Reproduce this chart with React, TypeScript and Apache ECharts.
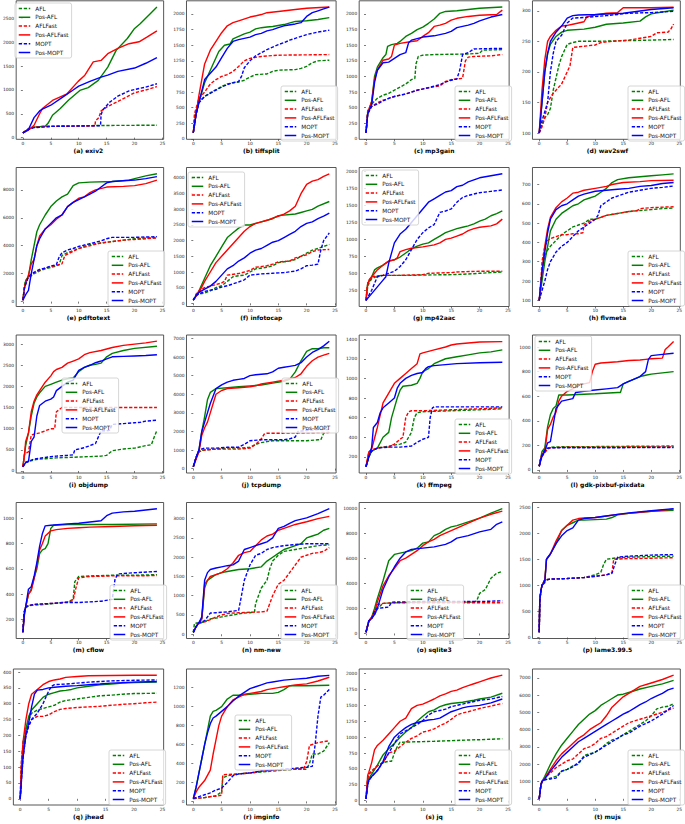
import React, { useEffect, useRef } from "react";
import * as echarts from "echarts";

type Pair = [number, number];

const SERIES_NAMES = ["AFL", "Pos-AFL", "AFLFast", "Pos-AFLFast", "MOPT", "Pos-MOPT"];
const X_TICKS = [0, 5, 10, 15, 20, 25];

const TITLES = [
  "(a) exiv2", "(b) tiffsplit", "(c) mp3gain", "(d) wav2swf",
  "(e) pdftotext", "(f) infotocap", "(g) mp42aac", "(h) flvmeta",
  "(i) objdump", "(j) tcpdump", "(k) ffmpeg", "(l) gdk-pixbuf-pixdata",
  "(m) cflow", "(n) nm-new", "(o) sqlite3", "(p) lame3.99.5",
  "(q) jhead", "(r) imginfo", "(s) jq", "(t) mujs",
];

const Y_TICKS: number[][] = [
  [0, 500, 1000, 1500, 2000, 2500],
  [0, 250, 500, 750, 1000, 1250, 1500, 1750, 2000],
  [0, 250, 500, 750, 1000, 1250, 1500, 1750, 2000],
  [100, 150, 200, 250, 300],
  [0, 2000, 4000, 6000, 8000],
  [0, 500, 1000, 1500, 2000, 2500, 3000, 3500, 4000],
  [250, 500, 750, 1000, 1250, 1500, 1750, 2000],
  [100, 200, 300, 400, 500, 600, 700],
  [0, 500, 1000, 1500, 2000, 2500, 3000],
  [0, 1000, 2000, 3000, 4000, 5000, 6000, 7000],
  [200, 400, 600, 800, 1000, 1200, 1400],
  [0, 200, 400, 600, 800, 1000],
  [200, 400, 600, 800, 1000],
  [0, 500, 1000, 1500, 2000, 2500, 3000],
  [0, 2000, 4000, 6000, 8000, 10000],
  [0, 500, 1000, 1500, 2000, 2500],
  [0, 50, 100, 150, 200, 250, 300, 350, 400],
  [0, 200, 400, 600, 800, 1000, 1200],
  [0, 250, 500, 750, 1000, 1250, 1500, 1750, 2000],
  [0, 1000, 2000, 3000, 4000, 5000, 6000, 7000],
];

// Series order in each plot: AFL, Pos-AFL, AFLFast, Pos-AFLFast, MOPT, Pos-MOPT
const exiv2: Pair[][] = [
  [[0,100],[1,180],[2,220],[4,240],[8,245],[14,255],[24,260]],
  [[0,100],[1,180],[2,220],[4,240],[4.5,300],[5.3,470],[6.7,610],[8.2,790],[10.2,990],[11.7,1050],[13.5,1200],[15.2,1480],[16.7,1830],[18.7,2080],[20,2290],[21,2390],[22.8,2600],[24,2740]],
  [[0,100],[1,190],[2,220],[5,235],[12.9,245],[13,350],[13.6,420],[14,560],[15,640],[17,760],[19,880],[20,940],[22,1000],[24,1070]],
  [[0,100],[1,160],[2,260],[3,500],[3.5,610],[5.3,780],[7.9,920],[9.9,1180],[11.1,1310],[12.6,1590],[14,1620],[15.2,1760],[17,1870],[19,1970],[20.8,2010],[22.2,2110],[24,2240]],
  [[0,100],[1,170],[2,210],[5,235],[13.9,250],[14,480],[14.3,580],[15.5,740],[17,870],[19,980],[20,1010],[22,1060],[24,1130]],
  [[0,100],[1,170],[2,420],[3,560],[3.5,600],[5,680],[7,840],[9,1000],[10,1080],[12,1180],[14,1270],[15.2,1310],[17,1390],[20,1460],[22,1560],[24,1680]],
];
const tiffsplit: Pair[][] = [
  [[0,100],[0.3,400],[1,600],[2,680],[3,740],[4,790],[5,840],[6,880],[7,900],[8,910],[9,940],[10,990],[11,1030],[13,1040],[14,1080],[15,1100],[18,1110],[19,1130],[20,1160],[21,1220],[22,1250],[24,1260]],
  [[0,100],[0.5,400],[1,600],[2,900],[3,1100],[4,1300],[4.5,1400],[5.5,1500],[6.5,1520],[7,1600],[8,1640],[9,1680],[10,1710],[11,1760],[12,1780],[13,1790],[14,1800],[16,1830],[18,1880],[20,1890],[22,1910],[24,1940]],
  [[0,100],[0.2,400],[1,650],[2,750],[3,880],[4,950],[5,1000],[6,1030],[7,1080],[8,1160],[9,1250],[10,1290],[12,1320],[15,1340],[24,1350]],
  [[0,100],[0.5,400],[1,700],[2,1200],[3,1420],[4,1560],[5,1700],[6,1810],[7,1860],[8,1890],[10,1950],[12,1990],[13,2020],[15,2040],[18,2070],[20,2090],[24,2110]],
  [[0,100],[0.5,400],[1,580],[2,680],[3,730],[4,780],[5,830],[6,870],[7,900],[8,920],[8.5,1000],[9,1140],[10,1250],[11,1330],[12,1380],[13,1430],[14,1470],[15,1510],[16,1540],[17,1580],[18,1610],[19,1640],[20,1670],[22,1710],[24,1740]],
  [[0,100],[0.5,400],[1,580],[2,950],[3,1050],[4,1150],[5,1300],[6,1450],[7,1560],[8,1590],[10,1630],[11,1670],[12,1690],[13,1730],[14,1750],[15,1780],[16,1810],[18,1840],[19,1860],[20,1960],[21,2020],[22,2050],[23,2080],[24,2110]],
];
const mp3gain: Pair[][] = [
  [[0,100],[0.3,450],[1,560],[2,650],[3,700],[4,730],[5,780],[6,830],[7,880],[8,950],[8.6,970],[8.8,1200],[9.2,1320],[10,1340],[12,1350],[18,1360],[20,1370],[20.5,1420],[24,1430]],
  [[0,100],[0.3,400],[1,600],[1.5,1000],[2,1150],[3,1300],[3.5,1350],[3.8,1480],[4.5,1510],[5.5,1530],[6,1560],[7,1640],[8,1690],[9,1750],[10,1790],[11,1850],[12,1920],[13,2010],[14,2040],[16,2050],[18,2070],[20,2090],[24,2110]],
  [[0,100],[0.3,420],[1,520],[2,580],[3,620],[4,650],[5,680],[7,720],[9,780],[11,820],[13,850],[14,920],[15,950],[16,960],[17,970],[17.5,1250],[18,1310],[19,1320],[22,1330],[24,1350]],
  [[0,100],[0.3,420],[1,600],[1.5,950],[2,1100],[3,1260],[4,1280],[4.5,1320],[5,1500],[6,1530],[8,1560],[9,1570],[10,1640],[11,1700],[12,1800],[13,1820],[14,1850],[15,1900],[16,1930],[18,1960],[20,1980],[23,1990],[24,2060]],
  [[0,100],[0.3,400],[1,520],[2,560],[3,610],[4,650],[5,680],[7,720],[9,780],[11,820],[13,870],[14,910],[15,940],[16,960],[16.5,1100],[17,1350],[18,1380],[19,1440],[24,1450]],
  [[0,100],[0.3,400],[1,550],[1.5,900],[2,1100],[3,1220],[4,1230],[5,1290],[6,1350],[7,1380],[7.5,1540],[8,1580],[10,1630],[12,1650],[14,1690],[15,1720],[16,1780],[18,1820],[19,1850],[20,1890],[22,1950],[24,1990]],
];
const wav2swf: Pair[][] = [
  [[0,100],[0.5,115],[1,125],[1.5,130],[2,140],[2.5,170],[3,190],[3.5,210],[4,225],[4.5,235],[5,245],[6,248],[7,250],[10,250],[15,251],[20,252],[24,253]],
  [[0,100],[0.5,150],[1,200],[1.5,230],[2,245],[3,258],[4,265],[5,268],[8,270],[10,273],[12,278],[15,280],[18,283],[19,290],[20,295],[22,298],[24,301]],
  [[0,100],[0.5,110],[1,125],[1.5,150],[2,158],[2.5,165],[3,170],[4,180],[5,200],[5.5,210],[6,240],[8,242],[10,244],[11,248],[13,250],[16,252],[18,255],[20,258],[21,264],[23,265],[23.5,270],[24,278]],
  [[0,100],[0.5,170],[1,220],[1.5,250],[2,258],[3,268],[4,275],[5,276],[6,278],[7,280],[8,282],[8.5,290],[10,293],[12,296],[14,297],[15,305],[20,305],[24,306]],
  [[0,100],[0.5,120],[1,135],[1.5,150],[2,200],[2.5,230],[3,250],[4,260],[4.5,270],[5,280],[6,288],[8,289],[12,292],[14,294],[16,296],[20,297],[22,298],[24,299]],
  [[0,100],[0.5,150],[1,200],[1.5,230],[2,250],[3,265],[4,275],[5,288],[6,292],[7,293],[10,294],[15,296],[20,302],[24,305]],
];
const pdftotext: Pair[][] = [
  [[0,100],[0.3,1200],[0.5,1500],[1,1700],[2,2000],[3,2200],[4,2350],[5,2450],[6,2550],[6.5,2650],[7,3300],[8,3500],[9,3650],[10,3800],[11,3950],[12,4100],[14,4200],[16,4300],[18,4400],[20,4500],[22,4550],[24,4600]],
  [[0,100],[0.3,1000],[0.5,1500],[1,1800],[1.5,3000],[2,4000],[2.5,5000],[3,5500],[4,6200],[5,6800],[6,7200],[7,7500],[8,7700],[9,8300],[10,8500],[12,8550],[16,8600],[19,8700],[20,8800],[22,9000],[24,9150]],
  [[0,100],[0.3,1100],[1,1800],[2,2050],[3,2250],[4,2400],[5,2500],[6,2600],[7,2700],[7.5,3300],[8,3400],[9,3600],[10,3800],[12,4000],[14,4200],[16,4300],[18,4400],[20,4450],[22,4500],[24,4550]],
  [[0,100],[0.3,1000],[1,1900],[1.5,2700],[2,3000],[2.5,4000],[3,4700],[4,5200],[5,5500],[6,5900],[7,6200],[8,6800],[9,7100],[10,7400],[11,7500],[12,7800],[13,8000],[15,8200],[18,8250],[20,8300],[22,8450],[24,8700]],
  [[0,100],[0.3,1000],[1,1800],[2,2100],[3,2300],[4,2400],[5,2550],[6,2650],[6.5,3200],[7,3500],[8,3700],[9,3800],[10,3950],[12,4150],[14,4350],[15,4500],[16,4600],[18,4600],[20,4600],[24,4650]],
  [[0,100],[0.5,500],[1,800],[1.5,2000],[2,3000],[2.5,4000],[3,4500],[4,5200],[5,5600],[6,6000],[7,6200],[8,6800],[9,7100],[10,7300],[11,7500],[12,7700],[13,7900],[14,8200],[15,8500],[16,8600],[18,8650],[20,8700],[22,8800],[24,8950]],
];
const infotocap: Pair[][] = [
  [[0,100],[0.5,250],[1,300],[2,330],[3,400],[4,500],[5,560],[6,700],[7,850],[8,880],[9,900],[10,1000],[11,1100],[13,1150],[14,1200],[15,1300],[17,1350],[18,1400],[19,1500],[20,1600],[21,1700],[22,1750],[24,1880]],
  [[0,100],[1,400],[2,800],[3,1200],[4,1500],[5,1800],[6,2100],[7,2250],[8,2400],[9,2500],[10,2500],[12,2600],[14,2700],[15,2800],[18,2850],[19,2900],[20,2950],[21,3000],[22,3100],[24,3250]],
  [[0,100],[0.5,300],[1,400],[2,500],[3,550],[4,600],[5,650],[5.5,700],[6,900],[8,950],[10,1050],[11,1150],[13,1200],[14,1250],[15,1320],[17,1350],[18,1450],[20,1550],[21,1650],[22,1700],[24,1720]],
  [[0,100],[1,350],[2,700],[3,1000],[4,1300],[5,1500],[6,1700],[7,1900],[8,2100],[9,2300],[10,2450],[11,2550],[12,2600],[13,2650],[14,2720],[15,2780],[16,2850],[17,2950],[18,3100],[19,3500],[20,3800],[21,3900],[22,3950],[23,4050],[24,4130]],
  [[0,100],[0.5,250],[1,300],[2,380],[3,420],[4,450],[5,520],[6,560],[7,620],[8,680],[9,750],[10,900],[12,940],[14,960],[16,980],[18,1030],[19,1100],[20,1200],[21,1220],[22,1250],[22.5,1700],[23,2000],[24,2250]],
  [[0,100],[0.5,250],[1,350],[2,450],[3,550],[4,700],[5,900],[6,1100],[7,1200],[8,1350],[9,1450],[10,1600],[11,1700],[12,1750],[13,1850],[14,1950],[15,2000],[16,2100],[17,2200],[18,2300],[19,2450],[20,2550],[21,2600],[22,2700],[23,2780],[24,2880]],
];
const mp42aac: Pair[][] = [
  [[0,100],[0.3,300],[0.5,350],[1,420],[2,460],[3,470],[5,470],[8,470],[10,475],[15,480],[18,490],[20,500],[22,510],[24,520]],
  [[0,100],[0.3,350],[1,450],[1.5,550],[2,580],[3,620],[4,680],[5,700],[6,740],[7,800],[8,860],[9,900],[10,930],[11,950],[12,1000],[13,1050],[14,1100],[15,1130],[16,1160],[17,1180],[18,1200],[19,1230],[20,1270],[21,1300],[22,1350],[23,1380],[24,1420]],
  [[0,100],[0.2,300],[0.5,400],[1,450],[2,460],[3,470],[6,470],[10,480],[11,500],[15,510],[16,520],[20,530],[24,530]],
  [[0,100],[0.3,350],[1,450],[2,550],[3,620],[4,680],[5,700],[5.5,730],[6,820],[7,850],[8,870],[10,890],[12,920],[13,950],[14,1000],[15,1020],[16,1050],[17,1080],[18,1130],[19,1160],[20,1180],[22,1200],[23,1230],[24,1300]],
  [[0,100],[1,250],[2,450],[3,470],[4,500],[5,530],[6,600],[7,700],[8,850],[9,1000],[10,1100],[11,1170],[12,1220],[13,1400],[14,1420],[15,1450],[16,1550],[17,1620],[18,1650],[19,1670],[20,1690],[22,1710],[24,1730]],
  [[0,100],[1,200],[2,300],[3,400],[3.5,450],[4,650],[5,950],[6,1080],[7,1150],[8,1250],[9,1350],[10,1450],[11,1550],[12,1600],[13,1650],[14,1700],[15,1720],[16,1780],[17,1800],[18,1850],[19,1880],[20,1910],[22,1940],[24,1970]],
];
const flvmeta: Pair[][] = [
  [[0,100],[0.5,250],[1,330],[1.5,360],[2,380],[3,410],[4,440],[5,460],[6,480],[7,490],[8,500],[9,520],[10,520],[11,530],[12,540],[14,550],[16,560],[18,565],[20,570],[22,575],[24,578]],
  [[0,100],[0.5,200],[1,300],[1.5,380],[2,460],[3,520],[4,550],[5,570],[6,590],[7,600],[8,620],[9,630],[10,640],[11,660],[12,680],[13,710],[14,725],[16,735],[18,740],[20,745],[22,750],[24,755]],
  [[0,100],[0.3,200],[0.5,300],[1,380],[1.5,410],[2,420],[3,430],[4,440],[5,440],[6,445],[7,445],[7.8,450],[8,490],[9,510],[10,520],[11,530],[12,540],[14,550],[16,560],[17.5,565],[18,575],[20,580],[24,585]],
  [[0,100],[0.5,250],[1,380],[1.5,470],[2,530],[3,580],[4,610],[5,630],[6,655],[7,660],[8,670],[10,680],[12,690],[13,700],[15,710],[18,715],[20,720],[24,722]],
  [[0,100],[0.5,150],[1,200],[1.5,260],[2,300],[3,350],[4,380],[5,400],[6,430],[7,460],[8,480],[9,500],[10,520],[10.5,540],[11,590],[12,610],[13,630],[14,640],[15,650],[16,660],[18,670],[20,680],[22,685],[24,692]],
  [[0,100],[0.5,250],[1,350],[1.5,450],[2,520],[3,570],[4,590],[5,600],[6,620],[7,640],[8,650],[10,665],[12,670],[14,675],[16,680],[18,690],[20,695],[22,705],[24,710]],
];
const objdump: Pair[][] = [
  [[0,100],[0.3,200],[1,230],[2,260],[3,280],[4,290],[5,300],[6,310],[8,320],[10,330],[12,340],[14,350],[15,370],[16,480],[17,500],[18,520],[20,540],[22,600],[23,620],[23.5,800],[24,960]],
  [[0,100],[0.3,400],[0.5,600],[1,900],[1.5,1300],[2,1600],[2.5,1750],[3,1850],[4,2000],[5,2050],[6,2100],[7,2150],[8,2180],[9,2200],[10,2350],[11,2450],[12,2500],[13,2520],[14,2550],[15,2700],[16,2780],[18,2850],[20,2900],[24,2950]],
  [[0,100],[0.3,400],[0.5,420],[1,450],[1.5,850],[2,870],[3,900],[4,950],[5,1000],[5.7,1000],[6,1400],[7,1500],[24,1500]],
  [[0,100],[0.3,400],[0.5,700],[1,900],[1.5,1400],[2,1650],[2.5,1800],[3,1900],[4,2100],[5,2250],[5.5,2350],[6,2400],[7,2450],[8,2550],[9,2600],[10,2650],[11,2750],[12,2800],[14,2850],[16,2920],[18,2970],[20,3000],[22,3030],[24,3070]],
  [[0,100],[0.5,200],[1,230],[2,280],[3,300],[4,320],[5,340],[6,350],[7,360],[8,370],[9,380],[9.3,500],[10,520],[11,550],[12,600],[13,650],[14,950],[15,950],[15.5,960],[16,1100],[18,1120],[20,1140],[21,1150],[22,1180],[24,1200]],
  [[0,100],[0.5,200],[1,220],[1.5,700],[2,800],[2.5,1300],[3,1550],[4,1650],[5,1700],[5.5,1750],[6,1900],[7,2000],[8,2100],[9,2150],[10,2380],[11,2450],[12,2500],[13,2560],[14,2600],[15,2650],[16,2700],[18,2710],[20,2720],[22,2730],[24,2750]],
];
const tcpdump: Pair[][] = [
  [[0,100],[0.5,600],[1,950],[2,1000],[4,1050],[6,1100],[8,1100],[10,1150],[11,1300],[12,1400],[13,1450],[14,1500],[16,1500],[18,1500],[20,1500],[22,1550],[22.5,1550],[23,1900],[24,1950]],
  [[0,100],[0.5,600],[1,1000],[1.5,2000],[2,2800],[2.5,3700],[3,4100],[4,4300],[6,4350],[8,4400],[10,4450],[12,4500],[14,4600],[16,4700],[17,4800],[18,5200],[19,5800],[20,6300],[21,6450],[22,6450],[23,6500],[24,6500]],
  [[0,100],[0.5,600],[1,900],[2,1000],[4,1050],[6,1050],[8,1050],[10,1100],[11,1300],[12,1600],[12.5,1850],[13,1900],[16,1900],[20,1920],[24,1950]],
  [[0,100],[0.5,500],[1,900],[1.5,1800],[2,2200],[2.5,2500],[3,3000],[3.5,3500],[4,4000],[5,4200],[6,4300],[8,4350],[10,4400],[11,4450],[12,4550],[14,4650],[16,4750],[18,4900],[19,5100],[20,5500],[21,5800],[22,6000],[23,6100],[24,6200]],
  [[0,100],[0.5,600],[1,1000],[2,1100],[4,1100],[6,1150],[8,1150],[9,1300],[10,1500],[12,1550],[14,1550],[16,1550],[17,1600],[18,1700],[18.5,2000],[20,2050],[22,2100],[24,2100]],
  [[0,100],[0.5,600],[1,1000],[1.5,2000],[2,2500],[3,3500],[4,4300],[5,4500],[6,4650],[7,4750],[8,4800],[9,4850],[10,5000],[11,5050],[13,5100],[14,5200],[15,5400],[16,5450],[17,5500],[18,5550],[19,5700],[20,6000],[21,6250],[22,6400],[23,6600],[24,6850]],
];
const ffmpeg: Pair[][] = [
  [[0,100],[0.5,220],[1,260],[2,290],[3,300],[4,310],[5,320],[6,330],[7,350],[7.5,400],[8,450],[8.5,600],[9,650],[10,660],[15,670],[20,680],[24,690]],
  [[0,100],[0.5,200],[1,260],[2,290],[3,400],[4,450],[4.5,600],[5,700],[5.5,800],[6,880],[6.5,920],[8,930],[9,950],[9.5,1000],[10,1070],[11,1100],[12,1150],[14,1200],[16,1220],[18,1240],[20,1260],[22,1270],[24,1290]],
  [[0,100],[0.5,250],[1,270],[2,290],[3,300],[4,300],[5,330],[6,380],[6.5,400],[7,600],[7.5,660],[8,670],[10,670],[15,680],[20,690],[24,700]],
  [[0,100],[0.5,250],[1,280],[2,500],[3,750],[4,850],[5,950],[6,1000],[7,1050],[8,1100],[9,1150],[9.5,1250],[10,1260],[12,1290],[14,1320],[15,1340],[16,1350],[18,1360],[20,1370],[24,1375]],
  [[0,100],[0.5,200],[1,260],[2,290],[4,300],[6,300],[8,310],[9,350],[10,380],[11,400],[11.3,600],[11.7,700],[12,710],[16,710],[20,710],[24,710]],
  [[0,100],[0.5,200],[1,300],[1.3,500],[2,550],[2.5,650],[3,700],[4,750],[5,800],[5.5,900],[6,950],[7,1000],[8,1030],[9,1050],[10,1060],[10.5,1100],[11,1120],[12,1130],[14,1140],[16,1150],[20,1160],[24,1165]],
];
const gdkPixbuf: Pair[][] = [
  [[0,30],[0.3,100],[0.5,120],[1,170],[2,185],[5,190],[10,190],[15,192],[20,193],[24,195]],
  [[0,30],[0.3,100],[0.5,150],[1,180],[1.5,350],[2,450],[2.5,500],[3,520],[3.5,610],[5,610],[10,620],[14,630],[14.5,630],[15,700],[16,720],[18,760],[19,770],[20,780],[22,790],[24,800]],
  [[0,30],[0.3,90],[0.5,110],[1,140],[1.5,170],[2,180],[5,185],[10,185],[15,186],[24,188]],
  [[0,30],[0.3,100],[0.5,130],[1,150],[1.5,330],[2,370],[2.5,430],[3,470],[3.5,560],[4,600],[5,640],[6,660],[7,690],[8,700],[9,710],[9.5,800],[10,860],[11,870],[14,880],[16,890],[18,895],[19,900],[20,905],[22,910],[22.5,980],[23,1000],[24,1045]],
  [[0,30],[0.3,100],[0.5,120],[1,160],[1.5,175],[2,180],[5,180],[10,180],[15,181],[24,183]],
  [[0,30],[0.3,80],[0.5,110],[1,150],[1.5,220],[2,230],[3,500],[4,560],[5,570],[6,580],[6.5,630],[8,640],[10,650],[12,660],[14,670],[15,700],[16,720],[18,760],[19,800],[19.5,900],[20,930],[22,940],[24,950]],
];
const cflow: Pair[][] = [
  [[0,100],[0.2,250],[0.5,290],[1,310],[2,315],[4,320],[6,330],[8,340],[9,360],[9.3,500],[10,540],[12,545],[16,550],[20,550],[24,555]],
  [[0,100],[0.3,250],[0.5,300],[1,400],[1.5,440],[2,530],[2.5,600],[3,720],[3.5,750],[4,760],[4.5,800],[5,920],[5.5,945],[8,950],[12,950],[16,950],[24,955]],
  [[0,100],[0.2,260],[0.5,300],[1,310],[2,320],[4,325],[6,330],[8,340],[9,350],[9.5,450],[10,530],[12,540],[16,545],[20,545],[24,548]],
  [[0,100],[0.3,250],[0.5,300],[1,400],[1.5,430],[2,520],[2.5,630],[3,750],[3.5,800],[4,860],[5,900],[6,910],[8,920],[10,925],[12,930],[16,935],[20,940],[24,945]],
  [[0,100],[0.2,250],[0.5,300],[1,310],[2,320],[4,325],[6,330],[8,335],[10,335],[12,340],[14,345],[16,360],[16.5,520],[17,560],[20,570],[24,580]],
  [[0,100],[0.3,260],[0.5,300],[1,440],[1.5,460],[2,540],[2.5,650],[3,780],[3.5,880],[4,940],[5,945],[8,955],[10,960],[12,970],[14,980],[15,1020],[16,1040],[18,1050],[20,1055],[22,1065],[24,1075]],
];
const nmNew: Pair[][] = [
  [[0,50],[0.2,280],[1,300],[2,320],[3,400],[4,420],[5,450],[6,480],[7,500],[8,530],[9,550],[10,560],[10.8,580],[11,800],[11.5,1000],[12,1200],[12.5,1300],[13,1400],[13.5,1700],[14,1900],[15,2050],[16,2150],[18,2200],[20,2250],[22,2300],[24,2320]],
  [[0,50],[0.5,200],[1,300],[1.5,400],[2,1200],[2.5,1400],[3,1450],[4,1550],[5,1600],[6,1630],[8,1680],[10,1700],[12,1750],[13,1900],[14,2000],[15,2100],[16,2200],[17,2250],[18,2300],[19,2350],[20,2500],[21,2550],[22,2600],[23,2700],[24,2750]],
  [[0,50],[0.5,200],[1,280],[2,320],[3,380],[4,450],[5,500],[6,540],[8,560],[10,570],[12,580],[13,600],[13.5,800],[14,1000],[15,1300],[16,1400],[17,1600],[18,1800],[19,2000],[20,2050],[21,2100],[22,2120],[23,2150],[24,2250]],
  [[0,50],[0.5,200],[1,300],[1.5,400],[2,1300],[2.5,1400],[3,1500],[4,1550],[5,1600],[6,1700],[7,1850],[8,2050],[9,2120],[10,2150],[11,2300],[12,2450],[13,2550],[14,2600],[15,2700],[16,2750],[17,2800],[18,2850],[20,2920],[22,3000],[24,3060]],
  [[0,50],[0.5,200],[1,300],[2,350],[3,550],[4,560],[5,570],[6,580],[7,600],[8,620],[8.5,1000],[9,1400],[9.5,1600],[10,1800],[11,2050],[12,2100],[13,2200],[14,2250],[16,2300],[18,2330],[20,2350],[24,2350]],
  [[0,50],[0.5,200],[1,300],[1.5,450],[2,1400],[2.5,1600],[3,1680],[4,1720],[5,1750],[6,1780],[7,1800],[8,1900],[9,2200],[10,2250],[11,2300],[12,2350],[13,2400],[14,2500],[15,2750],[16,2800],[17,2880],[18,2950],[20,3020],[22,3130],[24,3260]],
];
const sqlite3: Pair[][] = [
  [[0,100],[0.5,1000],[1,1200],[1.5,1500],[2,2000],[3,2400],[5,2450],[10,2500],[15,2500],[19,2500],[19.5,2600],[20,3200],[21,3500],[22,4400],[23,4800],[24,4950]],
  [[0,100],[0.5,1000],[1,1300],[1.5,2000],[2,2800],[3,4200],[4,5800],[5,6300],[6,6400],[7,6500],[8,6600],[9,6800],[10,7200],[11,7300],[12,7800],[13,8000],[14,8300],[15,8500],[16,8600],[18,8900],[20,9200],[22,9600],[24,9950]],
  [[0,100],[0.5,1000],[1,1200],[1.5,1700],[2,2300],[3,2400],[5,2450],[10,2450],[15,2450],[20,2450],[24,2450]],
  [[0,100],[0.5,1000],[1,1300],[1.5,1700],[2,2500],[3,3800],[4,4600],[5,5200],[6,5800],[7,6000],[8,6300],[9,6600],[10,7000],[11,7300],[12,7500],[13,7800],[14,8000],[15,8200],[16,8400],[18,8800],[20,9200],[22,9500],[24,9750]],
  [[0,100],[0.5,1000],[1,1200],[1.5,1800],[2,2000],[3,2050],[4,2100],[4.5,2500],[10,2550],[15,2550],[20,2550],[24,2600]],
  [[0,100],[0.5,1000],[1,1200],[1.5,1500],[2,2000],[3,3500],[4,4500],[5,5300],[6,6000],[7,6500],[8,6700],[10,6800],[12,6900],[14,7100],[15,7300],[16,7600],[18,7800],[20,8100],[21,8200],[22,8300],[23,8700],[24,8900]],
];
const lame: Pair[][] = [
  [[0,100],[0.1,700],[0.3,900],[0.5,1000],[1,1100],[2,1120],[5,1130],[8,1150],[10,1200],[11,1250],[11.5,1400],[12,1500],[14,1530],[16,1540],[20,1550],[24,1560]],
  [[0,100],[0.1,700],[0.3,900],[0.5,1000],[1,1100],[1.3,1500],[2,1600],[3,1800],[4,2050],[5,2150],[6,2200],[7,2250],[8,2250],[10,2260],[12,2270],[13,2300],[14,2350],[16,2380],[20,2420],[24,2440]],
  [[0,100],[0.1,700],[0.3,900],[0.5,1000],[1,1100],[2,1120],[5,1130],[8,1150],[10,1180],[12,1200],[13,1250],[13.3,1500],[15,1510],[20,1520],[24,1530]],
  [[0,100],[0.1,700],[0.3,900],[0.5,1000],[1,1100],[1.3,1500],[2,1600],[3,1850],[4,2050],[5,2150],[6,2250],[7,2280],[8,2290],[10,2300],[12,2330],[14,2360],[16,2380],[20,2420],[24,2460]],
  [[0,100],[0.1,700],[0.3,900],[0.5,1000],[1,1100],[2,1120],[5,1130],[8,1150],[10,1170],[12,1200],[13,1230],[13.5,1400],[14,1540],[16,1560],[20,1580],[24,1590]],
  [[0,100],[0.1,700],[0.3,900],[0.5,1000],[1,1050],[1.3,1500],[2,1600],[3,1800],[4,1950],[5,2050],[6,2100],[7,2250],[8,2280],[10,2300],[12,2330],[14,2360],[16,2390],[20,2430],[24,2470]],
];
const jhead: Pair[][] = [
  [[0,0],[0.2,100],[0.5,180],[1,220],[1.5,250],[2,270],[3,280],[4,285],[5,290],[6,295],[7,305],[8,310],[10,315],[12,320],[14,325],[16,327],[18,330],[20,332],[24,333]],
  [[0,0],[0.3,100],[0.5,150],[1,220],[1.5,260],[2,280],[3,300],[4,320],[5,330],[6,335],[7,340],[8,342],[9,345],[10,350],[12,355],[14,360],[16,362],[18,365],[20,367],[24,368]],
  [[0,0],[0.2,120],[0.5,170],[1,200],[1.5,230],[2,250],[3,260],[4,260],[5,265],[6,275],[7,282],[8,285],[10,288],[12,290],[14,292],[16,295],[18,298],[20,300],[22,303],[24,305]],
  [[0,0],[0.2,100],[0.5,180],[1,250],[1.5,300],[2,330],[3,345],[4,360],[5,370],[6,375],[7,378],[8,383],[10,386],[12,388],[16,389],[20,390],[24,390]],
  [[0,0],[0.3,80],[0.5,130],[1,200],[1.5,230],[2,250],[3,270],[4,300],[5,340],[5.5,355],[6,360],[8,362],[10,365],[12,368],[16,372],[20,374],[24,375]],
  [[0,0],[0.3,80],[0.5,130],[1,200],[1.5,240],[2,290],[2.5,330],[3,343],[4,345],[5,350],[6,352],[8,355],[10,357],[12,360],[14,362],[16,365],[20,368],[24,370]],
];
const imginfo: Pair[][] = [
  [[0,30],[1,35],[2,40],[3,50],[4,60],[4.5,80],[5,100],[5.2,250],[6,270],[8,290],[10,300],[12,310],[14,320],[16,330],[18,340],[20,340],[20.5,400],[21,500],[22,500],[23,530],[24,620]],
  [[0,30],[0.5,150],[1,300],[1.5,450],[2,600],[2.5,750],[3,900],[3.5,950],[4,960],[5,1000],[6,1080],[7,1120],[8,1120],[10,1130],[12,1140],[14,1140],[15,1150],[16,1180],[17,1220],[20,1220],[24,1225]],
  [[0,30],[1,35],[2,40],[3,50],[4,55],[5,65],[5.2,280],[6,285],[8,290],[10,300],[12,320],[14,330],[16,335],[18,340],[19.5,345],[20,420],[20.5,590],[21,600],[22,620],[24,640]],
  [[0,30],[0.5,100],[1,150],[2,220],[3,330],[3.5,500],[4,650],[4.5,800],[5,900],[6,1000],[7,1070],[8,1100],[9,1130],[10,1140],[12,1160],[13,1180],[14,1190],[15,1200],[16,1210],[18,1230],[20,1240],[22,1270],[24,1310]],
  [[0,30],[1,50],[2,70],[3,90],[4,120],[5,140],[6,200],[7,270],[8,290],[10,300],[12,320],[14,330],[16,340],[18,350],[20,360],[21,370],[21.5,600],[22,900],[22.5,1100],[23,1120],[24,1180]],
  [[0,30],[0.5,150],[1,300],[1.5,450],[2,600],[2.5,720],[3,820],[3.5,880],[4,900],[5,950],[6,1000],[7,1060],[8,1110],[9,1150],[10,1190],[11,1210],[12,1230],[13,1250],[14,1260],[16,1280],[18,1290],[20,1300],[22,1320],[24,1330]],
];
const jq: Pair[][] = [
  [[0,30],[0.3,350],[0.5,420],[1,450],[2,550],[3,600],[4,620],[4.5,620],[5,750],[5.5,850],[6,920],[8,925],[10,930],[12,935],[15,945],[18,955],[20,960],[24,975]],
  [[0,30],[0.3,300],[0.5,350],[1,420],[2,560],[3,720],[4,820],[5,900],[6,1000],[7,1080],[8,1150],[9,1250],[10,1330],[11,1400],[12,1430],[13,1480],[14,1510],[15,1530],[17,1550],[19,1580],[20,1600],[22,1630],[24,1690]],
  [[0,30],[0.3,350],[0.5,420],[1,470],[2,550],[3,600],[4,750],[5,780],[6,850],[7,920],[8,980],[9,1020],[10,1080],[11,1100],[12,1130],[13,1180],[14,1220],[15,1280],[16,1350],[17,1380],[18,1400],[20,1450],[22,1490],[24,1530]],
  [[0,30],[0.3,400],[0.5,450],[1,600],[1.5,800],[2,870],[3,950],[4,1050],[5,1150],[6,1250],[7,1300],[8,1450],[9,1500],[10,1520],[11,1560],[12,1600],[13,1650],[14,1680],[15,1720],[16,1740],[17,1780],[18,1810],[19,1840],[20,1870],[21,1900],[22,1930],[24,1975]],
  [[0,30],[0.3,250],[0.5,320],[1,380],[2,480],[3,600],[4,750],[5,900],[6,1050],[7,1100],[8,1150],[9,1200],[10,1260],[11,1350],[12,1400],[13,1420],[14,1440],[15,1480],[17,1520],[19,1560],[20,1580],[22,1600],[24,1640]],
  [[0,30],[0.3,250],[0.5,320],[1,380],[2,470],[3,620],[4,850],[5,1000],[6,1080],[7,1150],[8,1200],[9,1230],[10,1250],[11,1270],[12,1280],[13,1300],[14,1350],[15,1400],[16,1430],[17,1460],[18,1480],[20,1500],[22,1540],[24,1600]],
];
const mujs: Pair[][] = [
  [[0,0],[0.3,800],[0.5,1000],[1,1100],[2,1200],[3,1300],[4,1600],[5,1700],[6,1900],[7,2000],[8,2500],[9,2600],[10,2700],[11,2900],[12,3200],[13,3400],[14,3500],[15,3700],[16,3900],[17,4100],[18,4300],[19,4500],[20,4800],[21,5200],[22,5300],[23,5350],[24,5500]],
  [[0,0],[0.3,800],[0.5,1000],[1,1300],[2,2000],[3,2600],[4,3100],[5,3500],[6,3900],[7,4300],[8,4600],[9,4900],[10,5100],[11,5400],[12,5600],[13,5800],[14,6000],[15,6050],[16,6150],[17,6250],[18,6350],[20,6500],[22,6650],[24,6850]],
  [[0,0],[0.3,800],[0.5,1000],[1,1200],[2,1500],[3,1800],[4,2000],[5,2200],[6,2300],[7,2600],[8,2900],[9,3000],[10,3200],[11,3500],[12,3600],[13,3800],[14,4000],[15,4200],[16,4400],[17,4500],[18,4600],[19,4700],[20,4800],[22,5000],[24,5250]],
  [[0,0],[0.3,800],[0.5,1000],[1,1200],[2,1700],[3,2200],[4,2600],[5,2900],[6,3200],[7,3500],[8,3700],[9,4000],[10,4200],[11,4400],[12,4800],[13,5300],[14,5600],[15,5900],[16,6100],[17,6300],[18,6500],[20,6700],[22,6900],[24,7150]],
  [[0,0],[0.3,800],[0.5,1000],[1,1100],[2,1150],[3,1200],[4,1600],[5,1700],[6,1850],[7,2100],[8,2400],[9,2550],[10,2700],[11,2900],[12,3100],[13,3300],[14,3500],[15,3700],[16,3800],[17,4000],[18,4200],[19,4350],[20,4500],[22,4900],[24,5400]],
  [[0,0],[0.3,800],[0.5,1000],[1,1150],[2,1600],[3,2000],[4,2400],[5,2700],[6,3000],[7,3300],[8,3500],[9,3700],[10,3900],[11,4100],[12,4300],[13,4500],[14,4700],[15,4900],[16,5050],[17,5250],[18,5450],[19,5600],[20,5800],[21,5950],[22,6100],[23,6300],[24,6400]],
];

const PLOTS: Pair[][][] = [
  exiv2, tiffsplit, mp3gain, wav2swf,
  pdftotext, infotocap, mp42aac, flvmeta,
  objdump, tcpdump, ffmpeg, gdkPixbuf,
  cflow, nmNew, sqlite3, lame,
  jhead, imginfo, jq, mujs,
];

// ---- layout & style (not data) ----
const Y_LIMITS: [number, number][] = [
  [-35, 2870], [-5, 2210], [-5, 2210], [89.7, 316.3],
  [-350, 9600], [-101, 4335], [10, 2062], [68, 788],
  [-48, 3216], [-237, 7187], [36, 1442], [-25, 1098],
  [51, 1124], [-110, 3420], [-400, 10440], [-19, 2588],
  [-19.5, 409.5], [-38, 1397], [-67, 2072], [-357, 7507],
];
const COL_X0 = [20, 193.3, 366, 539.3];
const COL_SCALE = [5.70, 5.667, 5.68, 5.68];
const ROW_TOP = [0.8, 167.5, 335, 502.5, 669];
const ROW_BOTTOM = [139.3, 306.5, 473, 638.5, 805];
const LEGEND_POS: [number, number][] = [
  [15, 3], [281, 86], [455, 86], [628, 86],
  [108, 251], [188, 172], [362, 170], [628, 251],
  [62, 378], [282, 378], [455, 419], [535, 336],
  [110, 585], [281, 585], [407, 585], [628, 585],
  [109, 750], [235, 715], [455, 750], [628, 750],
];
const COLORS = ["#008000", "#008000", "#ff0000", "#ff0000", "#0000ff", "#0000ff"];
const DASHED = [true, false, true, false, true, false];
const FONT = "DejaVu Sans";

function buildOption() {
  const grid: any[] = [];
  const xAxis: any[] = [];
  const yAxis: any[] = [];
  const series: any[] = [];
  const legend: any[] = [];
  const graphic: any[] = [];

  PLOTS.forEach((plot, i) => {
    const col = i % 4;
    const row = Math.floor(i / 4);
    const s = COL_SCALE[col];
    const left = COL_X0[col] - 1.2 * s;
    const width = 26.4 * s;
    const top = ROW_TOP[row];
    const height = ROW_BOTTOM[row] - ROW_TOP[row];
    grid.push({
      left, top, width, height,
      show: true, borderColor: "#444", borderWidth: 0.9, backgroundColor: "transparent",
      containLabel: false,
    });
    xAxis.push({
      type: "value", gridIndex: i, min: -1.2, max: 25.2,
      axisLine: { show: false },
      splitLine: { show: false },
      axisTick: { show: true, length: 2, customValues: X_TICKS, lineStyle: { color: "#444", width: 0.7 } },
      axisLabel: {
        customValues: X_TICKS, fontSize: 4.4, margin: 2, color: "#222", fontFamily: FONT,
        formatter: (v: number) => String(v),
      },
    });
    yAxis.push({
      type: "value", gridIndex: i, min: Y_LIMITS[i][0], max: Y_LIMITS[i][1],
      axisLine: { show: false },
      splitLine: { show: false },
      axisTick: { show: true, length: 2, customValues: Y_TICKS[i], lineStyle: { color: "#444", width: 0.7 } },
      axisLabel: {
        customValues: Y_TICKS[i], fontSize: 4.4, margin: 2, color: "#222", fontFamily: FONT,
        formatter: (v: number) => String(v),
      },
    });
    plot.forEach((pts, k) => {
      series.push({
        type: "line",
        name: SERIES_NAMES[k],
        xAxisIndex: i,
        yAxisIndex: i,
        data: pts,
        symbol: "none",
        showSymbol: false,
        silent: true,
        clip: true,
        lineStyle: { color: COLORS[k], width: 1.4, type: DASHED[k] ? [3.3, 1.7] : "solid" },
        itemStyle: { color: COLORS[k] },
      });
    });
    legend.push({
      left: LEGEND_POS[i][0],
      top: LEGEND_POS[i][1],
      orient: "vertical",
      data: SERIES_NAMES,
      selectedMode: false,
      itemWidth: 11.5,
      itemHeight: 5.7,
      itemGap: 2.8,
      padding: [2.5, 3, 2.5, 3],
      backgroundColor: "rgba(255,255,255,0.8)",
      borderColor: "#cccccc",
      borderWidth: 0.8,
      borderRadius: 2,
      itemStyle: { opacity: 0, borderWidth: 0 },
      lineStyle: { width: 1.5 },
      textStyle: { fontSize: 5.7, fontFamily: FONT, color: "#111" },
    });
    graphic.push({
      type: "text",
      x: left + width / 2,
      y: ROW_BOTTOM[row] + 11,
      style: {
        text: TITLES[i],
        fill: "#000",
        font: `bold 6px "${FONT}"`,
        align: "center",
        verticalAlign: "middle",
      },
    });
  });

  return {
    animation: false,
    backgroundColor: "#ffffff",
    grid, xAxis, yAxis, series, legend, graphic,
  };
}

export default function App() {
  const ref = useRef<HTMLDivElement>(null);
  useEffect(() => {
    if (!ref.current) return;
    const chart = echarts.init(ref.current, undefined, { renderer: "svg" });
    chart.setOption(buildOption() as any);
    return () => chart.dispose();
  }, []);
  return (
    <div
      ref={ref}
      style={{ position: "fixed", left: 0, top: 0, width: 685, height: 824, background: "#fff" }}
    />
  );
}
